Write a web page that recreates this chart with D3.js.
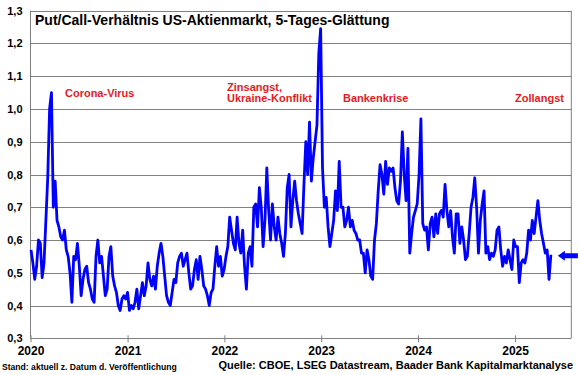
<!DOCTYPE html>
<html>
<head>
<meta charset="utf-8">
<script src="https://cdn.jsdelivr.net/npm/d3@7"></script>
<style>
  body { margin: 0; background: #fff; }
  svg { display: block; font-family: Arial, "Liberation Sans", sans-serif; }
  .axis text { font-weight: bold; fill: #000; }
  .axis .domain { display: none; }
</style>
</head>
<body>
<svg id="chart"></svg>
<script>
// weekly readings (Fridays), 5-day smoothed put/call ratio
var firstWeek = '2020-01-03';
var ratio2020 = [0.57, 0.53, 0.48, 0.52, 0.60, 0.59, 0.485, 0.53, 0.66, 0.79,
  1.0, 1.05, 0.70, 0.78, 0.66, 0.64, 0.61, 0.60, 0.63, 0.57,
  0.55, 0.50, 0.41, 0.55, 0.54, 0.59, 0.52, 0.43, 0.48, 0.51,
  0.52, 0.47, 0.45, 0.42, 0.41, 0.55, 0.60, 0.53, 0.55, 0.49,
  0.43, 0.45, 0.55, 0.58, 0.49, 0.46, 0.44, 0.40, 0.385, 0.42,
  0.43, 0.42];
var ratio2021 = [0.44, 0.385, 0.40, 0.39, 0.41, 0.45, 0.39, 0.43, 0.47, 0.43,
  0.46, 0.53, 0.48, 0.46, 0.49, 0.45, 0.52, 0.56, 0.59, 0.55,
  0.49, 0.43, 0.41, 0.40, 0.44, 0.48, 0.47, 0.53, 0.55, 0.56,
  0.52, 0.54, 0.56, 0.50, 0.45, 0.46, 0.51, 0.54, 0.48, 0.55,
  0.51, 0.46, 0.45, 0.43, 0.40, 0.44, 0.45, 0.52, 0.58, 0.52,
  0.55, 0.49, 0.51];
var ratio2022 = [0.55, 0.58, 0.67, 0.63, 0.59, 0.57, 0.67, 0.59, 0.56, 0.63,
  0.52, 0.45, 0.56, 0.58, 0.52, 0.70, 0.71, 0.64, 0.76, 0.70,
  0.58, 0.66, 0.82, 0.69, 0.60, 0.71, 0.64, 0.60, 0.67, 0.62,
  0.59, 0.55, 0.62, 0.76, 0.80, 0.64, 0.72, 0.78, 0.72, 0.68,
  0.65, 0.62, 0.77, 0.90, 0.80, 0.96, 0.78, 0.85, 0.90, 0.95,
  1.17, 1.245];
var ratio2023 = [0.82, 0.70, 0.73, 0.64, 0.58, 0.62, 0.66, 0.75, 0.69, 0.84,
  0.70, 0.70, 0.64, 0.66, 0.70, 0.64, 0.66, 0.63, 0.62, 0.60,
  0.60, 0.56, 0.56, 0.50, 0.57, 0.54, 0.49, 0.48, 0.60, 0.65,
  0.75, 0.83, 0.80, 0.74, 0.84, 0.77, 0.82, 0.81, 0.82, 0.76,
  0.72, 0.71, 0.78, 0.93, 0.80, 0.72, 0.88, 0.56, 0.62, 0.67,
  0.69, 0.71];
var ratio2024 = [0.80, 0.97, 0.65, 0.63, 0.64, 0.57, 0.65, 0.67, 0.61, 0.68,
  0.62, 0.68, 0.69, 0.67, 0.77, 0.69, 0.64, 0.69, 0.61, 0.56,
  0.68, 0.68, 0.59, 0.64, 0.60, 0.54, 0.55, 0.62, 0.70, 0.73,
  0.79, 0.70, 0.56, 0.66, 0.71, 0.75, 0.56, 0.58, 0.54, 0.56,
  0.55, 0.57, 0.63, 0.64, 0.57, 0.52, 0.55, 0.53, 0.57, 0.54,
  0.51, 0.60];
var ratio2025 = [0.58, 0.58, 0.47, 0.53, 0.54, 0.53, 0.56, 0.63, 0.60, 0.66,
  0.62, 0.67, 0.72, 0.66, 0.62, 0.59, 0.56, 0.57, 0.48, 0.555];

var yTicks = [0.3, 0.4, 0.5, 0.6, 0.7, 0.8, 0.9, 1.0, 1.1, 1.2, 1.3];
var yearTicks = ['2020', '2021', '2022', '2023', '2024', '2025'];

var eventLabels = [['Corona-Virus'], ['Zinsangst,', 'Ukraine-Konflikt'], ['Bankenkrise'], ['Zollangst']];
var eventDates = ['2020-05-10', '2022-01-11', '2023-03-24', '2025-01-01'];

var title = 'Put/Call-Verhältnis US-Aktienmarkt, 5-Tages-Glättung';
var noteLeft = 'Stand: aktuell z. Datum d. Veröffentlichung';
var noteRight = 'Quelle: CBOE, LSEG Datastream, Baader Bank Kapitalmarktanalyse';

document.addEventListener('DOMContentLoaded', () => {
  var size = { width: 580, height: 375, left: 30.5, right: 571.3, top: 10.7, bottom: 338.3 };
  var parse = d3.utcParse('%Y-%m-%d');
  var start = parse(firstWeek);

  var values = [].concat(ratio2020, ratio2021, ratio2022, ratio2023, ratio2024, ratio2025);
  var data = values.map((v, i) => ({ date: d3.utcDay.offset(start, 7 * i), value: v }));

  var x = d3.scaleUtc()
    .domain([parse('2020-01-01'), parse('2025-08-01')])
    .range([size.left, size.right]);

  var y = d3.scaleLinear()
    .domain([0.3, 1.3])
    .range([size.bottom, size.top]);

  var de = d3.formatLocale({ decimal: ',', thousands: '.', grouping: [3], currency: ['', ' €'] });
  var fmt = de.format('.1f');

  var svg = d3.select('#chart')
    .attr('width', size.width)
    .attr('height', size.height);

  // grid lines
  svg.append('g')
    .selectAll('line')
    .data(yTicks)
    .enter().append('line')
      .attr('x1', size.left)
      .attr('x2', size.right)
      .attr('y1', d => Math.round(y(d)) + 0.5)
      .attr('y2', d => Math.round(y(d)) + 0.5)
      .attr('stroke', '#808080')
      .attr('stroke-width', 1);

  // frame sides
  svg.append('line')
    .attr('x1', size.left).attr('x2', size.left)
    .attr('y1', size.top).attr('y2', size.bottom)
    .attr('stroke', '#808080');
  svg.append('line')
    .attr('x1', size.right).attr('x2', size.right)
    .attr('y1', size.top).attr('y2', size.bottom)
    .attr('stroke', '#808080');

  var yAxis = d3.axisLeft(y)
    .tickValues(yTicks)
    .tickSize(0)
    .tickPadding(8)
    .tickFormat(fmt);

  svg.append('g')
    .attr('class', 'axis y')
    .attr('transform', `translate(${ size.left }, 0)`)
    .call(yAxis)
    .selectAll('text')
      .style('font-size', '11px');

  var xAxis = d3.axisBottom(x)
    .tickValues(yearTicks.map(t => parse(t + '-01-01')))
    .tickSize(4)
    .tickPadding(4)
    .tickFormat(d3.utcFormat('%Y'));

  var gx = svg.append('g')
    .attr('class', 'axis x')
    .attr('transform', `translate(0, ${ size.bottom })`)
    .call(xAxis);
  gx.selectAll('line').attr('stroke', '#808080').attr('y1', -3);
  gx.selectAll('text').style('font-size', '12px');

  // series
  var line = d3.line()
    .x(d => x(d.date))
    .y(d => y(d.value));

  svg.append('path')
    .datum(data)
    .attr('fill', 'none')
    .attr('stroke', '#0000ff')
    .attr('stroke-width', 2.8)
    .attr('stroke-linejoin', 'round')
    .attr('d', line);

  // arrow at the latest value
  var last = data[data.length - 1];
  var ay = y(last.value) + 1;
  var ax = x(last.date) + 7;
  svg.append('path')
    .attr('d', `M${ ax },${ ay } L${ ax + 7 },${ ay - 5 } L${ ax + 7 },${ ay - 2.5 } L${ ax + 20 },${ ay - 2.5 } L${ ax + 20 },${ ay + 2.5 } L${ ax + 7 },${ ay + 2.5 } L${ ax + 7 },${ ay + 5 } Z`)
    .attr('fill', '#0000ff');

  // event annotations
  var labelY = [97, 91, 102, 102];
  eventLabels.forEach((lines, i) => {
    var t = svg.append('text')
      .attr('x', x(parse(eventDates[i])))
      .attr('y', labelY[i])
      .attr('fill', '#e31b23')
      .style('font-size', '11px')
      .style('font-weight', 'bold');
    lines.forEach((s, j) => {
      t.append('tspan')
        .attr('x', x(parse(eventDates[i])))
        .attr('dy', j === 0 ? 0 : 11)
        .text(s);
    });
  });

  svg.append('text')
    .attr('x', 35)
    .attr('y', 25)
    .style('font-size', '14px')
    .style('font-weight', 'bold')
    .text(title);

  svg.append('text')
    .attr('x', 2)
    .attr('y', 370)
    .style('font-size', '8.6px')
    .style('font-weight', 'bold')
    .text(noteLeft);

  svg.append('text')
    .attr('x', 573)
    .attr('y', 369)
    .attr('text-anchor', 'end')
    .style('font-size', '11px')
    .style('font-weight', 'bold')
    .text(noteRight);
});
</script>
</body>
</html>
